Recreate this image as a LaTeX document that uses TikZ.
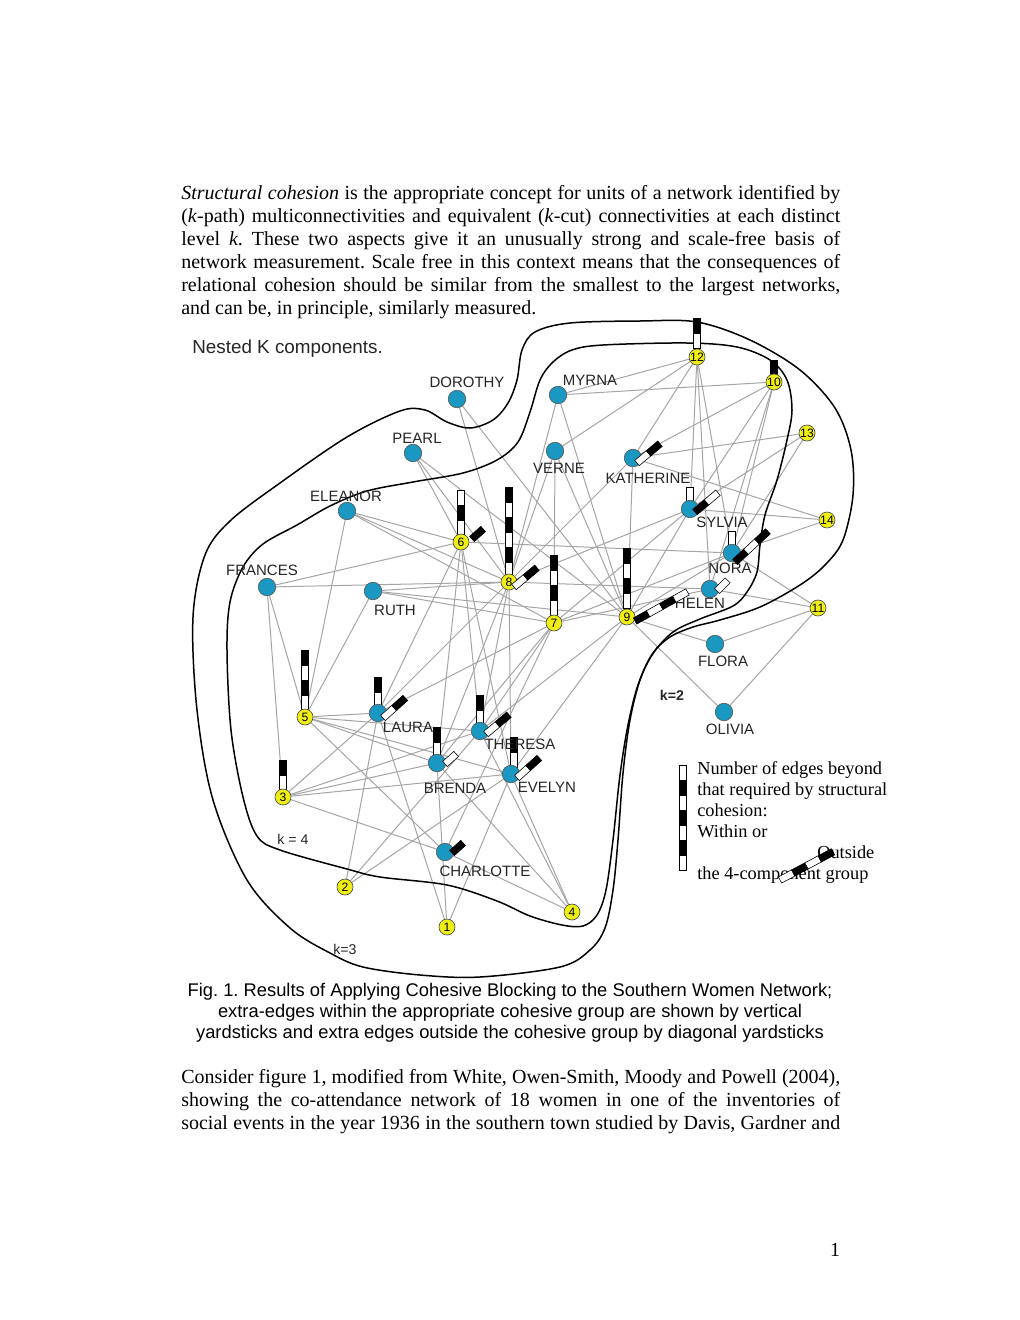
\documentclass[tikz,border=0pt]{standalone}
\usepackage{fontspec}
\setmainfont{Liberation Serif}
\newfontfamily\arialf{Liberation Sans}
\frenchspacing
\pgfdeclarelayer{bgpaper}
\pgfdeclarelayer{edgelayer}
\pgfsetlayers{bgpaper,edgelayer,main}
\definecolor{nblue}{RGB}{27,152,193}
\definecolor{nyellow}{RGB}{238,238,20}
\definecolor{egray}{RGB}{165,165,165}
\newcommand{\myvstick}[3]{\foreach \yc [count=\yi from 0] in {#3} {\filldraw[fill=\yc,draw=black,line width=0.35pt] (#1-3.5,#2-\yi*15) rectangle ++(7,-15);}}
\newcommand{\mydstick}[4]{\begin{scope}[shift={(#1,#2)},rotate=#3]\foreach \yc [count=\yi from 0] in {#4} {\filldraw[fill=\yc,draw=black,line width=0.35pt] (\yi*15,-3.5) rectangle ++(15,7);}\end{scope}}
\begin{document}
\begin{tikzpicture}[x=0.6pt,y=-0.6pt,
  bodytext/.style={anchor=base west,inner sep=0,font=\fontsize{12}{13.8}\selectfont},
  captext/.style={anchor=base,inner sep=0,font=\arialf\fontsize{11}{12.6}\selectfont},
  legtext/.style={anchor=base west,inner sep=0,font=\fontsize{11}{12.6}\selectfont},
  lab/.style={inner sep=0,font=\arialf\fontsize{9}{10}\selectfont,text=black!85},
  klab/.style={inner sep=0,font=\arialf\fontsize{8.5}{10}\selectfont,text=black!85},
  woman/.style={circle,fill=nblue,draw=black!65,line width=0.4pt,minimum size=10.5pt,inner sep=0},
  event/.style={circle,fill=nyellow,draw=black!70,line width=0.4pt,minimum size=9.6pt,inner sep=0,font=\arialf\fontsize{7.3}{8}\selectfont},
  edge/.style={draw=egray,line width=0.6pt},
  hull/.style={draw=black,line width=0.9pt}]
\useasboundingbox (0,0) rectangle (1020,1320);
\begin{pgfonlayer}{bgpaper}
\fill[white] (0,0) rectangle (1020,1320);
\end{pgfonlayer}

% body text
\node[bodytext] (t1) at (181,199) {\makebox[395.4pt][s]{\textit{Structural cohesion} is the appropriate concept for units of a network identified by}};
\node[bodytext] (t2) at (181,222) {\makebox[395.4pt][s]{(\textit{k}-path) multiconnectivities and equivalent (\textit{k}-cut) connectivities at each distinct}};
\node[bodytext] (t3) at (181,245) {\makebox[395.4pt][s]{level \textit{k}. These two aspects give it an unusually strong and scale-free basis of}};
\node[bodytext] (t4) at (181,268) {\makebox[395.4pt][s]{network measurement. Scale free in this context means that the consequences of}};
\node[bodytext] (t5) at (181,291) {\makebox[395.4pt][s]{relational cohesion should be similar from the smallest to the largest networks,}};
\node[bodytext] (t6) at (181,314) {and can be, in principle, similarly measured.};

\node[bodytext] (b1) at (181,1083) {\makebox[395.4pt][s]{Consider figure 1, modified from White, Owen-Smith, Moody and Powell (2004),}};
\node[bodytext] (b2) at (181,1106) {\makebox[395.4pt][s]{showing the co-attendance network of 18 women in one of the inventories of}};
\node[bodytext] (b3) at (181,1129) {\makebox[395.4pt][s]{social events in the year 1936 in the southern town studied by Davis, Gardner and}};
\node[bodytext,anchor=base] (pg) at (835,1256) {1};

% caption
\node[captext] (c1) at (510,996) {Fig. 1. Results of Applying Cohesive Blocking to the Southern Women Network;};
\node[captext] (c2) at (510,1017) {extra-edges within the appropriate cohesive group are shown by vertical};
\node[captext] (c3) at (510,1038) {yardsticks and extra edges outside the cohesive group by diagonal yardsticks};

% title
\node[anchor=base west,inner sep=0,font=\arialf\fontsize{11.3}{13}\selectfont,text=black!85] (title) at (192,353) {Nested K components.};

% hulls
\draw[hull] plot[smooth cycle,tension=0.55] coordinates {(193,617) (205,555) (230,521) (280,483) (347,437) (400,411) (425,410) (447,422) (470,428) (493,420) (508,403) (517,380) (522,350) (535,332) (570,323) (640,321) (697,322) (750,340) (800,370) (835,408) (851,450) (853,495) (843,540) (825,565) (800,585) (760,607) (720,620) (693,627) (670,637) (653,653) (640,680) (630,720) (623,773) (618,840) (613,890) (605,928) (590,950) (560,967) (480,977) (420,975) (363,967) (330,953) (290,928) (247,880) (213,800) (197,710)};
\draw[hull] plot[smooth cycle,tension=0.55] coordinates {(227,650) (230,602) (243,567) (263,544) (297,525) (330,506) (367,491) (413,482) (463,473) (497,460) (518,442) (530,412) (540,380) (553,362) (572,350) (603,345) (687,343) (737,347) (770,360) (787,380) (792,410) (787,440) (777,480) (765,515) (760,545) (757,572) (747,592) (733,606) (700,619) (673,632) (652,655) (638,685) (628,725) (620,775) (613,840) (606,890) (597,915) (583,926) (562,925) (530,916) (497,901) (447,885) (380,877) (347,869) (280,850) (257,836) (243,797) (231,730)};

\node[klab,font=\arialf\bfseries\fontsize{8.5}{10}\selectfont] (k2) at (672,695) {k=2};
\node[klab] (k4) at (293,839) {k = 4};
\node[klab] (k3) at (345,949) {k=3};

% vertical yardsticks
\myvstick{697}{348}{white,black}
\myvstick{774}{375}{black}
\myvstick{461}{535}{white,black,white}
\myvstick{509}{577}{white,black,white,black,white,black}
\myvstick{554}{615}{white,black,white,black}
\myvstick{627}{608}{white,black,white,black}
\myvstick{305}{710}{white,black,white,black}
\myvstick{283}{790}{white,black}
\myvstick{378}{707}{white,black}
\myvstick{480}{725}{white,black}
\myvstick{437}{757}{white,black}
\myvstick{514}{767}{white,black}
\myvstick{690}{502}{white}
\myvstick{732}{546}{white}

% events
\node[event] (e1) at (447,927) {1};
\node[event] (e2) at (345,887) {2};
\node[event] (e3) at (283,797) {3};
\node[event] (e4) at (572,912) {4};
\node[event] (e5) at (305,717) {5};
\node[event] (e6) at (461,542) {6};
\node[event] (e7) at (554,623) {7};
\node[event] (e8) at (509,582) {8};
\node[event] (e9) at (627,617) {9};
\node[event] (e10) at (774,382) {10};
\node[event] (e11) at (818,608) {11};
\node[event] (e12) at (697,357) {12};
\node[event] (e13) at (807,433) {13};
\node[event] (e14) at (827,520) {14};

% women
\node[woman] (dorothy) at (457,399) {};
\node[woman] (myrna) at (558,395) {};
\node[woman] (pearl) at (413,453) {};
\node[woman] (verne) at (555,451) {};
\node[woman] (katherine) at (633,458) {};
\node[woman] (eleanor) at (347,511) {};
\node[woman] (sylvia) at (690,509) {};
\node[woman] (nora) at (732,553) {};
\node[woman] (frances) at (267,587) {};
\node[woman] (ruth) at (373,591) {};
\node[woman] (helen) at (710,589) {};
\node[woman] (flora) at (715,644) {};
\node[woman] (olivia) at (724,712) {};
\node[woman] (laura) at (378,713) {};
\node[woman] (theresa) at (480,731) {};
\node[woman] (brenda) at (437,763) {};
\node[woman] (evelyn) at (511,774) {};
\node[woman] (charlotte) at (445,852) {};

% labels
\node[lab] (ldorothy) at (467,382) {DOROTHY};
\node[lab] (lmyrna) at (590,380) {MYRNA};
\node[lab] (lpearl) at (417,438) {PEARL};
\node[lab] (lverne) at (559,468) {VERNE};
\node[lab] (lkatherine) at (648,478) {KATHERINE};
\node[lab] (leleanor) at (346,496) {ELEANOR};
\node[lab] (lsylvia) at (722,522) {SYLVIA};
\node[lab] (lnora) at (730,568) {NORA};
\node[lab] (lfrances) at (262,570) {FRANCES};
\node[lab] (lruth) at (395,610) {RUTH};
\node[lab] (lhelen) at (700,603) {HELEN};
\node[lab] (lflora) at (723,661) {FLORA};
\node[lab] (lolivia) at (730,729) {OLIVIA};
\node[lab] (llaura) at (408,727) {LAURA};
\node[lab] (ltheresa) at (520,744) {THERESA};
\node[lab] (lbrenda) at (455,788) {BRENDA};
\node[lab] (levelyn) at (547,787) {EVELYN};
\node[lab] (lcharlotte) at (485,871) {CHARLOTTE};

% diagonal yardsticks
\mydstick{472}{539}{42}{black}
\mydstick{514}{587}{40}{white,black}
\mydstick{635}{621}{29}{black,white,black,white}
\mydstick{637}{463}{40}{white,black}
\mydstick{695}{512}{40}{black,white}
\mydstick{735}{562}{43}{black,white,black}
\mydstick{717}{591}{45}{white}
\mydstick{383}{718}{42}{white,black}
\mydstick{486}{734}{40}{white,black}
\mydstick{445}{764}{42}{white}
\mydstick{517}{778}{42}{white,black}
\mydstick{452}{853}{42}{black}

% legend
\myvstick{683}{870}{white,black,white,black,white,black,white}
\node[legtext] (l1) at (697,774) {Number of edges beyond};
\node[legtext] (l2) at (697,795) {that required by structural};
\node[legtext] (l3) at (697,816) {cohesion:};
\node[legtext] (l4) at (697,837) {Within or};
\node[legtext] (l5) at (817,858) {Outside};
\node[legtext] (l6) at (697,879) {the 4-component group};
\mydstick{780}{880}{28}{white,black,white,black}

% edges
\begin{pgfonlayer}{edgelayer}
\foreach \e in {1,2,3,4,5,6,8,9} \draw[edge] (evelyn) -- (e\e);
\foreach \e in {1,2,3,5,6,7,8} \draw[edge] (laura) -- (e\e);
\foreach \e in {2,3,4,5,6,7,8,9} \draw[edge] (theresa) -- (e\e);
\foreach \e in {1,3,4,5,6,7,8} \draw[edge] (brenda) -- (e\e);
\foreach \e in {3,4,5,7} \draw[edge] (charlotte) -- (e\e);
\foreach \e in {3,5,6,8} \draw[edge] (frances) -- (e\e);
\foreach \e in {5,6,7,8} \draw[edge] (eleanor) -- (e\e);
\foreach \e in {6,8,9} \draw[edge] (pearl) -- (e\e);
\foreach \e in {5,7,8,9} \draw[edge] (ruth) -- (e\e);
\foreach \e in {7,8,9,12} \draw[edge] (verne) -- (e\e);
\foreach \e in {8,9,10,12} \draw[edge] (myrna) -- (e\e);
\foreach \e in {8,9,10,12,13,14} \draw[edge] (katherine) -- (e\e);
\foreach \e in {7,8,9,10,12,13,14} \draw[edge] (sylvia) -- (e\e);
\foreach \e in {6,7,9,10,11,12,13,14} \draw[edge] (nora) -- (e\e);
\foreach \e in {7,8,10,11,12} \draw[edge] (helen) -- (e\e);
\foreach \e in {8,9} \draw[edge] (dorothy) -- (e\e);
\foreach \e in {9,11} \draw[edge] (olivia) -- (e\e);
\foreach \e in {9,11} \draw[edge] (flora) -- (e\e);
\end{pgfonlayer}
\end{tikzpicture}
\end{document}
